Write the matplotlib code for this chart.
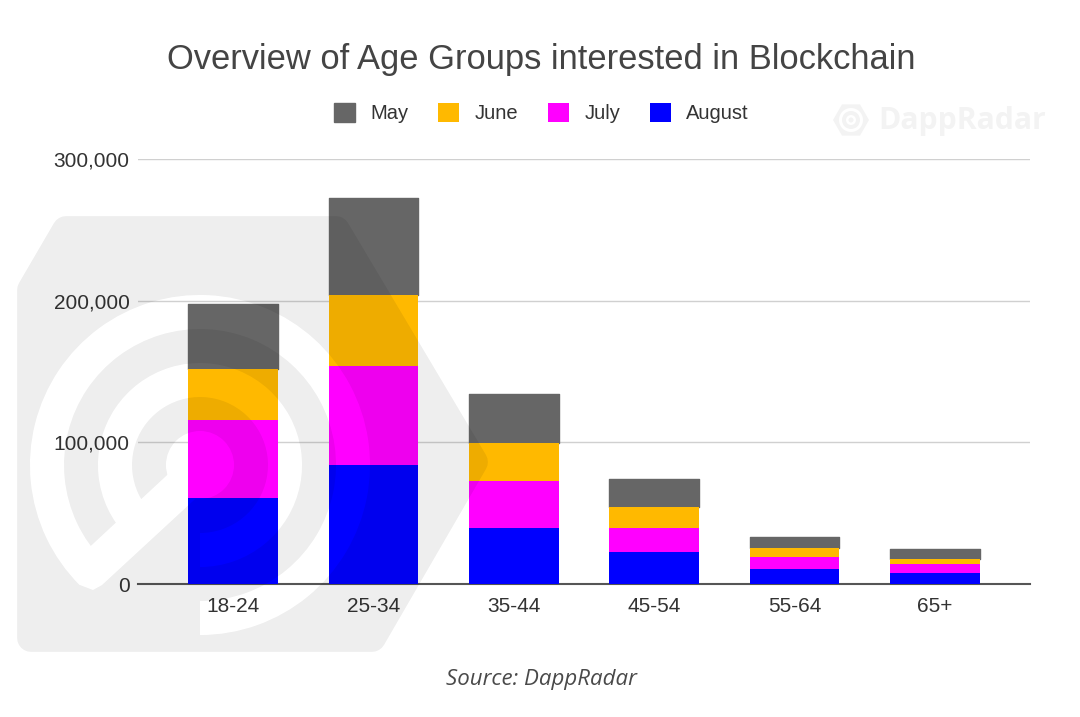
import numpy as np
import matplotlib
matplotlib.use('Agg')
import matplotlib.pyplot as plt
from matplotlib.patches import Wedge, Polygon, Circle, RegularPolygon
from matplotlib.ticker import FuncFormatter

W, H = 1080, 717

ages = ['18-24', '25-34', '35-44', '45-54', '55-64', '65+']
august = [60700, 84000, 39500, 22400, 10400, 7800]
july = [55100, 69900, 33200, 17400, 8400, 6100]
june = [35700, 50100, 26800, 14800, 6400, 4000]
may = [45800, 68700, 34300, 19300, 7900, 6500]

series_names = ['May', 'June', 'July', 'August']
series_colors = ['#666666', '#ffb900', '#ff00ff', '#0000ff']

plt.rcParams['font.family'] = ['Liberation Sans', 'DejaVu Sans']


def draw_logo(ax):
    # big faded logo, pixel coords. thick round edge gives the soft corners
    ax.add_patch(Polygon([(31, 290), (66, 230), (336, 230), (474, 462), (372, 638), (31, 638)],
                         fc='black', ec='black', lw=20, joinstyle='round'))
    cx, cy = 200, 465
    for r0, r1 in [(136, 170), (68, 102)]:
        ax.add_patch(Wedge((cx, cy), r1, 135, 450, width=r1 - r0, fc='white', ec='none'))
    ax.add_patch(Circle((cx, cy), 34, fc='white', ec='none'))
    ax.add_patch(Polygon([(178, 465), (80, 556), (80, 585), (93, 590), (102, 585), (232, 465)],
                         fc='white', ec='none'))


# watermark mask, rendered once then put over the whole chart
mask_fig = plt.figure(figsize=(W / 100, H / 100), dpi=100)
mask_ax = mask_fig.add_axes([0, 0, 1, 1])
mask_ax.set_xlim(0, W)
mask_ax.set_ylim(H, 0)
mask_ax.axis('off')
draw_logo(mask_ax)
mask_fig.canvas.draw()
mask = 1 - np.asarray(mask_fig.canvas.buffer_rgba())[:, :, 0] / 255.0
plt.close(mask_fig)

fig = plt.figure(figsize=(W / 100, H / 100), dpi=100, facecolor='white')
ax = fig.add_axes([138 / W, 1 - 584 / H, (1030 - 138) / W, (584 - 159) / H])

x = np.arange(len(ages))
bottom = np.zeros(len(ages))
stack = [august, july, june, may]
colors = series_colors[::-1]
names = series_names[::-1]
handles = {}
for i, (vals, c, n) in enumerate(zip(stack, colors, names)):
    if n == 'May':
        # round join for the slightly rounded top of the stack
        b = ax.bar(x, vals, 0.64, bottom=bottom, color=c, edgecolor=c, linewidth=1.0,
                   joinstyle='round', zorder=2)
    else:
        b = ax.bar(x, vals, 0.64, bottom=bottom, color=c, zorder=5 - i)
    handles[n] = b
    bottom += np.array(vals)

ax.set_xlim(-0.677, 5.677)
ax.set_ylim(0, 300000)
ax.set_yticks([0, 100000, 200000, 300000])
ax.yaxis.set_major_formatter(FuncFormatter(lambda v, p: f'{int(v):,}'))
ax.set_xticks(x)
ax.set_xticklabels(ages)
ax.grid(axis='y', color='#d0d0d0', lw=1.0, zorder=0)
ax.set_axisbelow(True)
for s in ['top', 'right', 'left']:
    ax.spines[s].set_visible(False)
ax.spines['bottom'].set_color('#555555')
ax.spines['bottom'].set_linewidth(1.5)
ax.tick_params(axis='both', length=0, labelsize=15, labelcolor='#333333')
ax.tick_params(axis='y', pad=6)
ax.tick_params(axis='x', pad=9)

fig.text(541 / W, 1 - 60 / H, 'Overview of Age Groups interested in Blockchain',
         ha='center', va='center', fontsize=24.85, color='#444444')

fig.legend([handles[n] for n in series_names], series_names, ncol=4, frameon=False,
           loc='center', bbox_to_anchor=(541.5 / W, 1 - 113 / H), fontsize=14.5,
           labelcolor='#333333', handlelength=1.05, handleheight=1.05, handletextpad=0.75,
           columnspacing=1.48)

fig.text(541 / W, 1 - 680 / H, 'Source: DappRadar', ha='center', va='center',
         fontsize=16, style='italic', family='Open Sans', color='#4a4a4a')

# overlay for the watermark
over = fig.add_axes([0, 0, 1, 1], zorder=10)
over.axis('off')
over.patch.set_alpha(0)
rgba = np.zeros((H, W, 4))
rgba[:, :, 3] = mask * 0.07
over.imshow(rgba, extent=(0, W, H, 0), aspect='auto', interpolation='nearest')
over.set_xlim(0, W)
over.set_ylim(H, 0)

# small logo top right
over.add_patch(RegularPolygon((851, 120), 6, radius=18, orientation=np.pi / 2,
                              fc='#f3f3f3', ec='none'))
for r, c in [(12, 'white'), (9, '#f3f3f3'), (5, 'white'), (2.5, '#f3f3f3')]:
    over.add_patch(Circle((851, 120), r, fc=c, ec='none'))
over.text(878, 121, 'DappRadar', ha='left', va='center', fontsize=21.7, fontweight='bold',
          family='Open Sans', color='#f3f3f3')

fig.savefig('out.png', dpi=100, facecolor='white')
